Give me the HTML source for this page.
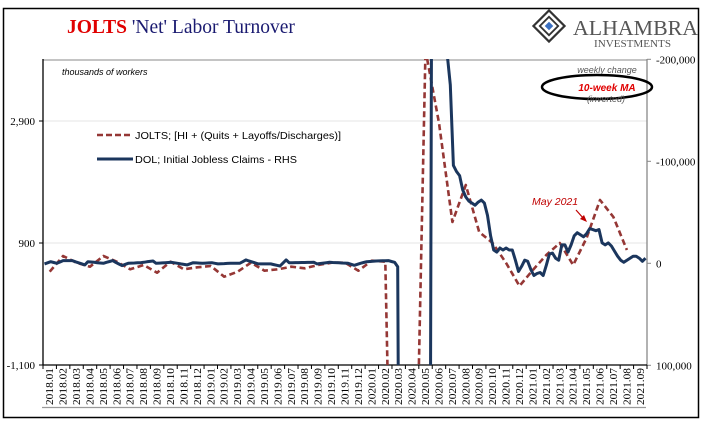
<!DOCTYPE html>
<html><head><meta charset="utf-8"><style>
html,body{margin:0;padding:0;background:#fff;width:705px;height:421px;overflow:hidden;}
svg{display:block;overflow:hidden;}
</style></head><body>
<svg id="chart" width="705" height="421" viewBox="0 0 705 421" xmlns="http://www.w3.org/2000/svg">
<rect x="3.5" y="8.5" width="695" height="409" fill="#fff" stroke="#000" stroke-width="1.5"/>
<text x="67" y="33" font-family="Liberation Serif, serif" font-size="19.5"><tspan fill="#e00000" font-weight="bold">JOLTS</tspan><tspan fill="#1a1a70"> 'Net' Labor Turnover</tspan></text>
<g>
 <g transform="translate(549,26) rotate(45)">
  <rect x="-11" y="-11" width="22" height="22" fill="none" stroke="#333" stroke-width="2.2"/>
  <rect x="-6.5" y="-6.5" width="13" height="13" fill="none" stroke="#333" stroke-width="1.8"/>
  <rect x="-3" y="-3" width="6" height="6" fill="#3a6fc0"/>
 </g>
 <text x="573" y="35" font-family="Liberation Serif, serif" font-size="21" fill="#555" textLength="125" lengthAdjust="spacingAndGlyphs">ALHAMBRA</text>
 <text x="594" y="47" font-family="Liberation Serif, serif" font-size="10" fill="#555" textLength="77" lengthAdjust="spacingAndGlyphs">INVESTMENTS</text>
</g>
<line x1="43" y1="60" x2="647" y2="60" stroke="#888" stroke-width="1"/>
<g id="grid"></g>
<g id="axes"></g>
<text x="62" y="75" font-family="Liberation Sans, sans-serif" font-style="italic" font-size="9">thousands of workers</text>
<g>
 <line x1="97" y1="135" x2="133" y2="135" stroke="#953735" stroke-width="2.5" stroke-dasharray="6,3"/>
 <text x="135" y="139" font-family="Liberation Sans, sans-serif" font-size="10.5" textLength="206" lengthAdjust="spacingAndGlyphs">JOLTS; [HI + (Quits + Layoffs/Discharges)]</text>
 <line x1="97" y1="159" x2="133" y2="159" stroke="#1b365d" stroke-width="3"/>
 <text x="135" y="163" font-family="Liberation Sans, sans-serif" font-size="10.5" textLength="162" lengthAdjust="spacingAndGlyphs">DOL; Initial Jobless Claims - RHS</text>
</g>
<clipPath id="plotclip"><rect x="43" y="59" width="604" height="306"/></clipPath>
<g id="series" clip-path="url(#plotclip)"></g>
<g>
 <text x="607" y="73" text-anchor="middle" font-family="Liberation Sans, sans-serif" font-style="italic" font-size="9" fill="#555">weekly change</text>
 <ellipse cx="597" cy="87" rx="55" ry="12" fill="none" stroke="#000" stroke-width="2.5"/>
 <text x="607" y="91" text-anchor="middle" font-family="Liberation Sans, sans-serif" font-style="italic" font-weight="bold" font-size="10" fill="#e00000">10-week MA</text>
 <text x="606" y="102" text-anchor="middle" font-family="Liberation Sans, sans-serif" font-style="italic" font-size="9" fill="#555">(inverted)</text>
</g>
<g>
 <text x="532" y="205" font-family="Liberation Sans, sans-serif" font-style="italic" font-size="10.5" fill="#c00000">May 2021</text>
 <line x1="576" y1="210" x2="584" y2="219" stroke="#c00000" stroke-width="1.2"/>
 <polygon points="587,222 580,219 584,215" fill="#c00000"/>
</g>
<line x1="42" y1="407.5" x2="646" y2="407.5" stroke="#999" stroke-width="1.2"/>
</svg>
<script>
const months = [];
for (let y = 2018; y <= 2021; y++) for (let m = 1; m <= 12; m++) { if (y === 2021 && m > 9) break; months.push(y + '.' + String(m).padStart(2, '0')); }
const leftTicks = [-1100, 900, 2900];
const leftTickLabels = ['-1,100', '900', '2,900'];
const rightTicks = [-200000, -100000, 0, 100000];
const rightTickLabels = ['-200,000', '-100,000', '0', '100,000'];
const joltsValues = [430,687,577,512,687,593,469,539,413,593,469,502,523,348,430,577,446,469,512,485,539,577,577,446,610,593,-10000,-6400,4063,2867,1244,1851,1080,900,572,195,457,703,900,539,982,1605,1326,785];
const dolValues = [0.6,-0.5,-1.6,-0.8,0,-1.3,-2.6,-2.6,-2.6,-2.6,-1.5,-0.5,0.5,1.6,-1.6,-1.3,-1,-0.6,-0.3,0,-1,-1.8,-2.6,-0.9,0.7,2.3,1.1,0,-0.2,-0.3,-0.5,-0.6,-1,-1.5,-1.9,-2.3,0,-0.2,-0.4,-0.6,-0.8,-1,-0.5,0,0.6,1.1,1.6,0.5,-0.6,-0.4,-0.2,0,-0.2,-0.4,-0.6,0,0.6,0.4,0.3,0.1,0,0,0,0,-1.6,-3.3,-2.3,-1.4,-0.4,0.6,0.6,0.6,0.6,0.6,1.3,2,2.6,-0.4,-3.3,-0.6,-0.6,-0.7,-0.7,-0.8,-0.8,-0.9,-0.9,-1,0.6,0.2,-0.2,-0.6,-1,-0.8,-0.7,-0.5,-0.3,-0.2,0,1,2,1,0,-0.8,-1.6,-1.8,-2,-2.3,-2.4,-2.5,-2.5,-2.6,-1.8,-1,3.3,600,1500,2500,3000,3000,2500,2000,1500,1000,800,-300,-600,-450,-320,-240,-205,-175,-96,-90,-86,-72,-65,-61,-59,-57,-60,-62,-59,-47,-27,-13,-11,-15,-13,-15,-13,-13,-3,8,3,-3,-2,6,12,10,9,12,2,-9,-10,-5,-3,-18,-18,-11,-18,-27,-30,-28,-26,-29,-34,-33,-32,-33,-20,-18,-20,-17,-12,-7,-3,-1,-3,-5,-7,-7,-5,-2,-5];

const NS = 'http://www.w3.org/2000/svg';
const X0 = 43, X1 = 647, band = (X1 - X0) / months.length;
const weekW = band * 12 / 52;
const xMonth = i => X0 + band * (i + 0.5);
const xWeek = i => X0 + weekW * (i + 0.5);
const yLeft = v => 243 - (v - 900) * 0.061;
const yRight = v => 263.3 + v / 100000 * 102;
function mk(tag, attrs, parent) { const e = document.createElementNS(NS, tag); for (const k in attrs) e.setAttribute(k, attrs[k]); parent.appendChild(e); return e; }

const grid = document.getElementById('grid');
const axes = document.getElementById('axes');
leftTicks.forEach((v, i) => {
  const y = yLeft(v);
  if (i > 0) {
    const g = mk('line', {x1: X0, y1: y, x2: X1, y2: y, stroke: '#e4e4e4', 'stroke-width': 1}, grid);
    
    
  }
  mk('line', {x1: X0 - 4, y1: y, x2: X0, y2: y, stroke: '#000', 'stroke-width': 1}, axes);
  const t = mk('text', {x: 35, y: y + 4, 'text-anchor': 'end', 'font-family': 'Liberation Serif, serif', 'font-size': 11}, axes);
  t.textContent = leftTickLabels[i];
  
  
});
rightTicks.forEach((v, i) => {
  const y = yRight(v);
  mk('line', {x1: X1, y1: y, x2: X1 + 4, y2: y, stroke: '#888', 'stroke-width': 1}, axes);
  const t = mk('text', {x: 656, y: y + 4, 'font-family': 'Liberation Serif, serif', 'font-size': 11}, axes);
  t.textContent = rightTickLabels[i];
  
  
});
const la = mk('line', {x1: X0, y1: 59, x2: X0, y2: 365, stroke: '#000', 'stroke-width': 1.3}, axes);


const ra = mk('line', {x1: X1, y1: 59, x2: X1, y2: 365, stroke: '#888', 'stroke-width': 1.3}, axes);


const xa = mk('line', {x1: X0, y1: 365, x2: X1, y2: 365, stroke: '#000', 'stroke-width': 1.3}, axes);


for (let i = 0; i <= months.length; i++) mk('line', {x1: X0 + band * i, y1: 365, x2: X0 + band * i, y2: 369, stroke: '#000', 'stroke-width': 1}, axes);
months.forEach((m, i) => {
  const x = xMonth(i) + 3.5;
  const t = mk('text', {x: x, y: 405, transform: `rotate(-90 ${x} 405)`, 'font-family': 'Liberation Serif, serif', 'font-size': 10.5, textLength: 37, lengthAdjust: 'spacingAndGlyphs'}, axes);
  t.textContent = m;
  
  
});

const series = document.getElementById('series');
const jp = joltsValues.map((v, i) => `${xMonth(i).toFixed(1)},${yLeft(v).toFixed(1)}`).join(' ');
const jl = mk('polyline', {points: jp, fill: 'none', stroke: '#953735', 'stroke-width': 2.6, 'stroke-dasharray': '6,3.5', 'stroke-linejoin': 'round'}, series);


const dp = dolValues.map((v, i) => `${xWeek(i).toFixed(1)},${yRight(v * 1000).toFixed(1)}`).join(' ');
const dl = mk('polyline', {points: dp, fill: 'none', stroke: '#1b365d', 'stroke-width': 3, 'stroke-linejoin': 'round'}, series);


</script>
</body></html>
